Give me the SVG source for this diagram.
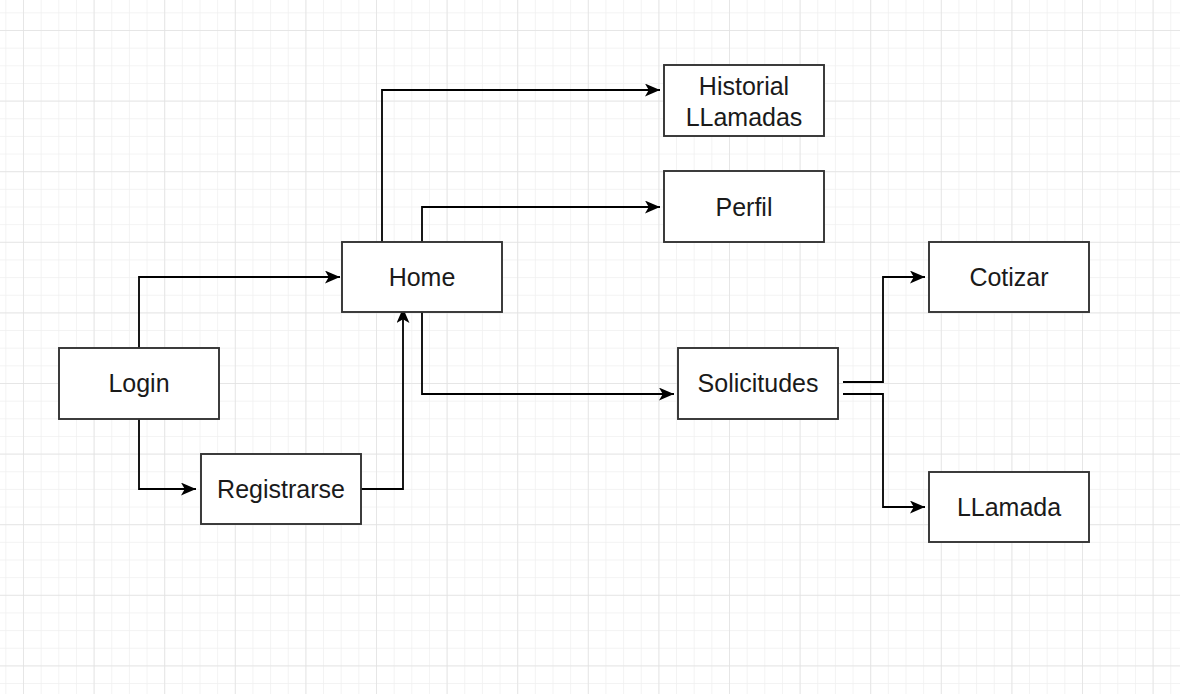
<svg xmlns="http://www.w3.org/2000/svg" width="1180" height="694" viewBox="0 0 1180 694">
<style>
.box{fill:#ffffff;stroke:#333333;stroke-width:1.9}
.lbl{font-family:"Liberation Sans",Arial,sans-serif;font-size:25px;fill:#1a1a1a;text-anchor:middle}
.conn{fill:none;stroke:#000000;stroke-width:1.8}
</style>
<defs>
<pattern id="minor" x="5.35" y="12.35" width="17.65" height="17.65" patternUnits="userSpaceOnUse">
<path d="M0,0 H17.65 M0,0 V17.65" fill="none" stroke="#f0f0f0" stroke-width="1.5"/>
</pattern>
<pattern id="major" x="23" y="30" width="70.6" height="70.6" patternUnits="userSpaceOnUse">
<path d="M0,0 H70.6 M0,0 V70.6" fill="none" stroke="#e2e2e2" stroke-width="1.5"/>
</pattern>
<marker id="arr" viewBox="0 0 14 12" refX="14" refY="6" markerWidth="15" markerHeight="13" markerUnits="userSpaceOnUse" orient="auto">
<path d="M0,0 L14,6 L0,12 L3.5,6 z" fill="#000000"/>
</marker>
</defs>
<rect x="0" y="0" width="1180" height="694" fill="#ffffff"/>
<rect x="0" y="0" width="1180" height="694" fill="url(#minor)"/>
<rect x="0" y="0" width="1180" height="694" fill="url(#major)"/>
<g id="connectors">
<path class="conn" d="M139,348 V277 H340" marker-end="url(#arr)"/>
<path class="conn" d="M139,419 V489 H196" marker-end="url(#arr)"/>
<path class="conn" d="M361,489 H403 V308" marker-end="url(#arr)"/>
<path class="conn" d="M382,242 V90 H660" marker-end="url(#arr)"/>
<path class="conn" d="M422,242 V207 H660" marker-end="url(#arr)"/>
<path class="conn" d="M422,312 V394 H674" marker-end="url(#arr)"/>
<path class="conn" d="M843,382 H883 V277 H925" marker-end="url(#arr)"/>
<path class="conn" d="M843,394 H883 V507 H925" marker-end="url(#arr)"/>
</g>
<g id="historial">
<rect class="box" x="664" y="65" width="160" height="71"/>
<text class="lbl" x="744" y="95">Historial</text>
<text class="lbl" x="744" y="126">LLamadas</text>
</g>
<g id="perfil">
<rect class="box" x="664" y="171" width="160" height="71"/>
<text class="lbl" x="744" y="216">Perfil</text>
</g>
<g id="home">
<rect class="box" x="342" y="242" width="160" height="70"/>
<text class="lbl" x="422" y="286">Home</text>
</g>
<g id="cotizar">
<rect class="box" x="929" y="242" width="160" height="70"/>
<text class="lbl" x="1009" y="286">Cotizar</text>
</g>
<g id="login">
<rect class="box" x="59" y="348" width="160" height="71"/>
<text class="lbl" x="139" y="392">Login</text>
</g>
<g id="solicitudes">
<rect class="box" x="678" y="348" width="160" height="71"/>
<text class="lbl" x="758" y="392">Solicitudes</text>
</g>
<g id="registrarse">
<rect class="box" x="201" y="454" width="160" height="70"/>
<text class="lbl" x="281" y="498">Registrarse</text>
</g>
<g id="llamada">
<rect class="box" x="929" y="472" width="160" height="70"/>
<text class="lbl" x="1009" y="516">LLamada</text>
</g>
</svg>
